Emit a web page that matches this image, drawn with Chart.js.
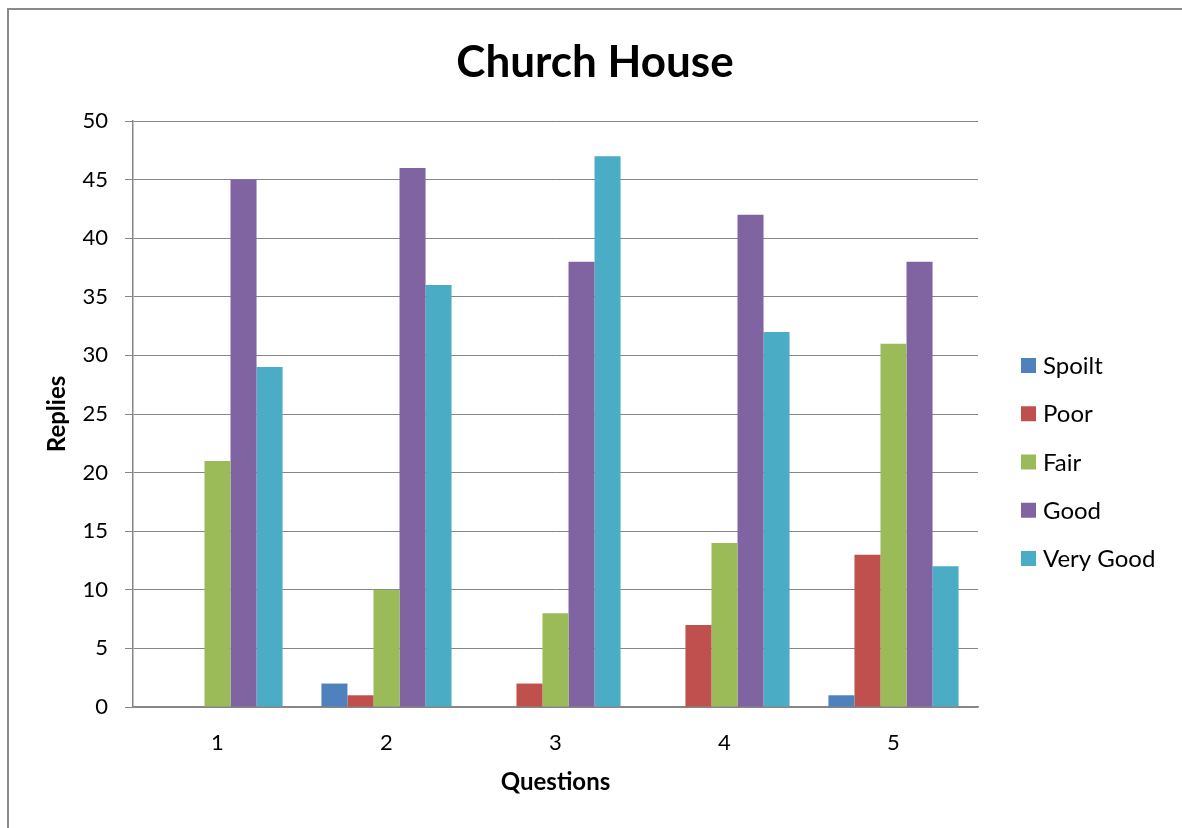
<!DOCTYPE html>
<html>
<head>
<meta charset="utf-8">
<script src="https://cdn.jsdelivr.net/npm/chart.js@4/dist/chart.umd.min.js"></script>
<style>
  html, body { margin: 0; padding: 0; background: #ffffff; overflow: hidden; }
  #frame { position: absolute; left: 7px; top: 8px; width: 1200px; height: 850px; border: 2px solid #8a8a8a; box-sizing: border-box; background: #fff; }
  #wrap { position: absolute; left: 0; top: 0; width: 1182px; height: 828px; }
</style>
</head>
<body>
<div id="frame"></div>
<div id="wrap"><canvas id="c" width="1182" height="828"></canvas></div>
<script>
const categories = ['1', '2', '3', '4', '5'];
const seriesNames = ['Spoilt', 'Poor', 'Fair', 'Good', 'Very Good'];
const spoilt   = [0, 2, 0, 0, 1];
const poor     = [0, 1, 2, 7, 13];
const fair     = [21, 10, 8, 14, 31];
const good     = [45, 46, 38, 42, 38];
const veryGood = [29, 36, 47, 32, 12];
const yTicks = [0, 5, 10, 15, 20, 25, 30, 35, 40, 45, 50];
const colors = ['#4F81BD', '#C0504D', '#9BBB59', '#8064A2', '#4BACC6'];

const FONT = 'Lato, "Open Sans", sans-serif';
const seriesValues = [spoilt, poor, fair, good, veryGood];

const legendPlugin = {
  id: 'sideLegend',
  afterDraw(chart) {
    const ctx = chart.ctx;
    const x0 = chart.chartArea.right + 43;
    const y0 = 365.5;
    const step = 48.25;
    ctx.save();
    ctx.font = '24px ' + FONT;
    ctx.textBaseline = 'middle';
    ctx.textAlign = 'left';
    chart.data.datasets.forEach((ds, i) => {
      const cy = y0 + i * step;
      ctx.fillStyle = ds.backgroundColor;
      ctx.fillRect(x0, cy - 7.5, 15, 15);
      ctx.fillStyle = '#000';
      ctx.fillText(ds.label, x0 + 22, cy + 1);
    });
    ctx.restore();
  }
};

new Chart(document.getElementById('c'), {
  type: 'bar',
  data: {
    labels: categories,
    datasets: seriesNames.map((name, i) => ({
      label: name,
      data: seriesValues[i],
      backgroundColor: colors[i],
      borderWidth: 0,
      categoryPercentage: 0.77,
      barPercentage: 1.0
    }))
  },
  options: {
    responsive: false,
    animation: false,
    layout: { padding: { top: 20, bottom: 27, left: 8, right: 0 } },
    plugins: {
      legend: { display: false },
      tooltip: { enabled: false },
      title: {
        display: true,
        text: 'Church House',
        color: '#000',
        font: { family: FONT, size: 44, weight: 'bold' },
        padding: { top: 16, bottom: 32.2 }
      }
    },
    scales: {
      x: {
        grid: { display: false, drawTicks: false, tickLength: 0 },
        border: { display: true, color: '#868686', width: 1.5 },
        ticks: { color: '#000', font: { family: FONT, size: 22 }, padding: 23 },
        title: {
          display: true,
          text: 'Questions',
          color: '#000',
          font: { family: FONT, size: 24, weight: 'bold' },
          padding: { top: 4, bottom: 4 }
        },
        afterFit(scale) { scale.height = 94; }
      },
      y: {
        min: 0,
        max: 50,
        afterBuildTicks(scale) { scale.ticks = yTicks.map(v => ({ value: v })); },
        grid: { color: '#868686', lineWidth: 1, drawTicks: true, tickLength: 8, tickColor: '#868686' },
        border: { display: true, color: '#868686', width: 1.5 },
        ticks: { color: '#000', font: { family: FONT, size: 22 }, padding: 17 },
        title: {
          display: true,
          text: 'Replies',
          color: '#000',
          font: { family: FONT, size: 24, weight: 'bold' },
          padding: { top: 35, bottom: 4 }
        },
        afterFit(scale) { scale.width = 125; }
      },
      legendSpace: {
        type: 'linear',
        position: 'right',
        display: true,
        grid: { display: false, drawTicks: false },
        border: { display: false },
        ticks: { display: false },
        afterFit(scale) { scale.width = 204; }
      }
    }
  },
  plugins: [legendPlugin]
});
</script>
</body>
</html>
